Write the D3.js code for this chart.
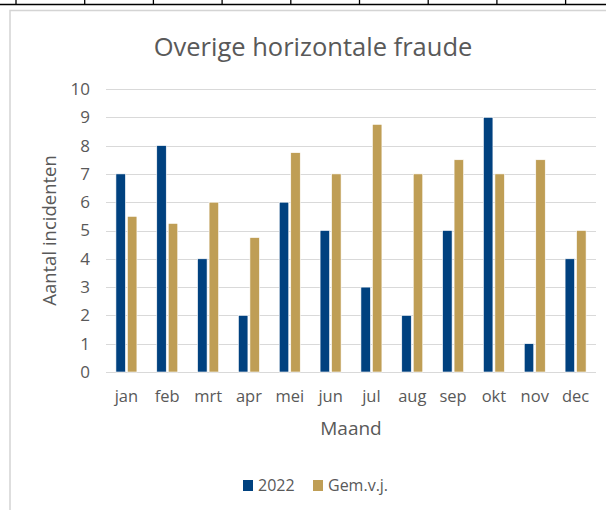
<!DOCTYPE html>
<head>
<meta charset="utf-8">
<script src="https://cdn.jsdelivr.net/npm/d3@7"></script>
<style>
body { margin: 0; background: #fff; }
text { font-family: "Open Sans", sans-serif; fill: #595959; }
</style>
</head>
<svg width="606" height="510"></svg>

<script>
    var months = ["jan", "feb", "mrt", "apr", "mei", "jun", "jul", "aug", "sep", "okt", "nov", "dec"];
    var series = ["2022", "Gem.v.j."];
    var values2022 = [7, 8, 4, 2, 6, 5, 3, 2, 5, 9, 1, 4];
    var valuesGem = [5.5, 5.25, 6, 4.75, 7.75, 7, 8.75, 7, 7.5, 7, 7.5, 5];
    var yTicks = [0, 1, 2, 3, 4, 5, 6, 7, 8, 9, 10];

    var svg = d3.select("svg"),
        margin = {top: 89, right: 10, bottom: 138, left: 106},
        width = +svg.attr("width") - margin.left - margin.right,
        height = +svg.attr("height") - margin.top - margin.bottom;

    // spreadsheet cell borders behind the chart
    svg.append("line")
      .attr("x1", 0).attr("x2", 606).attr("y1", 4.5).attr("y2", 4.5)
      .attr("stroke", "#000").attr("stroke-width", 1.6);
    d3.range(9).forEach(function(i) {
        var cx = 16 + i * 68.7;
        svg.append("line")
          .attr("x1", cx).attr("x2", cx).attr("y1", 0).attr("y2", 5)
          .attr("stroke", "#000").attr("stroke-width", 1.3);
    });

    // chart frame
    svg.append("path")
      .attr("d", "M10,510 V10.5 H606")
      .attr("fill", "none")
      .attr("stroke", "#d4d4d4")
      .attr("stroke-width", 1.5);

    var g = svg.append("g").attr("transform", "translate(" + margin.left + "," + margin.top + ")");

    var x0 = d3.scaleBand()
        .domain(months)
        .range([0, width])
        .paddingInner(0.486)
        .paddingOuter(0.243);

    var x1 = d3.scaleBand()
        .domain(series)
        .range([0, x0.bandwidth()])
        .paddingInner(0.174);

    var y = d3.scaleLinear()
        .domain([0, 10])
        .range([height, 0]);

    var z = d3.scaleOrdinal()
        .domain(series)
        .range(["#00417f", "#bf9e55"]);

    // gridlines
    g.append("g")
      .selectAll("line")
      .data(yTicks)
      .enter().append("line")
        .attr("x1", 0)
        .attr("x2", width)
        .attr("y1", function(d) { return Math.round(y(d)) + 0.5; })
        .attr("y2", function(d) { return Math.round(y(d)) + 0.5; })
        .attr("stroke", "#d9d9d9")
        .attr("stroke-width", 1);

    var data = months.map(function(m, i) {
        return {month: m, "2022": values2022[i], "Gem.v.j.": valuesGem[i]};
    });

    g.append("g")
      .selectAll("g")
      .data(data)
      .enter().append("g")
        .attr("transform", function(d) { return "translate(" + x0(d.month) + ",0)"; })
      .selectAll("rect")
      .data(function(d) { return series.map(function(k) { return {key: k, value: d[k]}; }); })
      .enter().append("rect")
        .attr("x", function(d) { return x1(d.key); })
        .attr("y", function(d) { return y(d.value); })
        .attr("width", x1.bandwidth())
        .attr("height", function(d) { return y(0) - y(d.value); })
        .attr("fill", function(d) { return z(d.key); })
        .attr("stroke", "#ffffff")
        .attr("stroke-width", 0.6);

    // y axis labels
    g.append("g")
      .call(d3.axisLeft(y).tickValues(yTicks).tickSize(0).tickPadding(16))
      .call(function(a) { a.select(".domain").remove(); })
      .selectAll("text")
        .attr("font-family", "Open Sans, sans-serif")
        .attr("font-size", 17)
        .attr("fill", "#595959");

    // x axis labels
    g.append("g")
      .attr("transform", "translate(0," + height + ")")
      .call(d3.axisBottom(x0).tickSize(0).tickPadding(18))
      .call(function(a) { a.select(".domain").remove(); })
      .selectAll("text")
        .attr("font-family", "Open Sans, sans-serif")
        .attr("font-size", 16.5)
        .attr("fill", "#595959");

    // titles
    svg.append("text")
      .attr("x", 313)
      .attr("y", 56)
      .attr("text-anchor", "middle")
      .attr("font-size", 25.5)
      .text("Overige horizontale fraude");

    svg.append("text")
      .attr("transform", "translate(56," + (margin.top + height / 2) + ") rotate(-90)")
      .attr("text-anchor", "middle")
      .attr("font-size", 18.5)
      .text("Aantal incidenten");

    svg.append("text")
      .attr("x", margin.left + width / 2)
      .attr("y", 435)
      .attr("text-anchor", "middle")
      .attr("font-size", 19)
      .text("Maand");

    // legend
    var legend = svg.append("g")
      .attr("transform", "translate(243,480)");

    var item = legend.selectAll("g")
      .data(series)
      .enter().append("g")
        .attr("transform", function(d, i) { return "translate(" + (i * 70) + ",0)"; });

    item.append("rect")
      .attr("width", 10)
      .attr("height", 11)
      .attr("fill", z);

    item.append("text")
      .attr("x", 15)
      .attr("y", 11)
      .attr("font-size", 16)
      .text(function(d) { return d; });
</script>
